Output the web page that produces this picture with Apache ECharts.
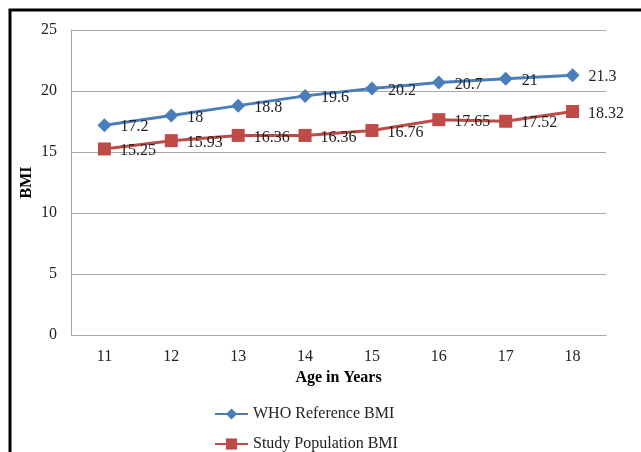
<!DOCTYPE html>
<html>
<head>
<meta charset="utf-8">
<script src="https://cdn.jsdelivr.net/npm/echarts@6/dist/echarts.min.js"></script>
<style>
  html, body { margin: 0; padding: 0; background: #fff; }
  #chart { width: 641px; height: 452px; }
</style>
</head>
<body>
<div id="chart"></div>
<script>
const ages = ['11', '12', '13', '14', '15', '16', '17', '18']
const whoBmi = [17.2, 18, 18.8, 19.6, 20.2, 20.7, 21, 21.3]
const studyBmi = [15.25, 15.93, 16.36, 16.36, 16.76, 17.65, 17.52, 18.32]

const font = 'Liberation Serif'

const chart = echarts.init(document.getElementById('chart'))

const labelStyle = {
  show: true,
  position: 'right',
  distance: 9,
  offset: [0, 2],
  fontFamily: font,
  fontSize: 16,
  color: '#222',
}

const legendCommon = {
  orient: 'vertical',
  left: 214,
  padding: 0,
  itemWidth: 33,
  itemHeight: 14,
  textStyle: { fontFamily: font, fontSize: 16, color: '#222' },
}

chart.setOption({
  animation: false,
  backgroundColor: '#fff',
  grid: { left: 71, right: 35, top: 30, bottom: 117 },
  xAxis: {
    type: 'category',
    data: ages,
    boundaryGap: true,
    name: 'Age in Years',
    nameLocation: 'middle',
    nameGap: 29,
    nameTextStyle: { fontFamily: font, fontSize: 16, fontWeight: 'bold', color: '#000' },
    axisLine: { lineStyle: { color: '#a6a6a6', width: 1 } },
    axisTick: { show: false },
    axisLabel: { margin: 14, fontFamily: font, fontSize: 16, color: '#222' },
  },
  yAxis: {
    type: 'value',
    min: 0,
    max: 25,
    interval: 5,
    name: 'BMI',
    nameLocation: 'middle',
    nameGap: 36,
    nameMoveOverlap: false,
    nameTextStyle: { fontFamily: font, fontSize: 16, fontWeight: 'bold', color: '#000' },
    axisLine: { show: true, lineStyle: { color: '#a6a6a6', width: 1 } },
    axisTick: { show: false },
    axisLabel: { margin: 14, fontFamily: font, fontSize: 16, color: '#222' },
    splitLine: { lineStyle: { color: '#a6a6a6', width: 1 } },
  },
  legend: [
    Object.assign({ top: 406, data: ['WHO Reference BMI'] }, legendCommon),
    Object.assign({ top: 436, data: ['Study Population BMI'] }, legendCommon),
  ],
  series: [
    {
      name: 'WHO Reference BMI',
      type: 'line',
      data: whoBmi,
      symbol: 'diamond',
      symbolSize: 14,
      lineStyle: { color: '#4a7ebb', width: 3 },
      itemStyle: { color: '#4a7ebb' },
      label: labelStyle,
    },
    {
      name: 'Study Population BMI',
      type: 'line',
      data: studyBmi,
      symbol: 'rect',
      symbolSize: 13,
      lineStyle: { color: '#be4b48', width: 3 },
      itemStyle: { color: '#be4b48' },
      label: labelStyle,
    },
  ],
  graphic: [
    {
      type: 'polyline',
      shape: { points: [[10, 452], [10, 10], [641, 10]] },
      style: { stroke: '#000', lineWidth: 3, fill: null },
    },
  ],
})
</script>
</body>
</html>
